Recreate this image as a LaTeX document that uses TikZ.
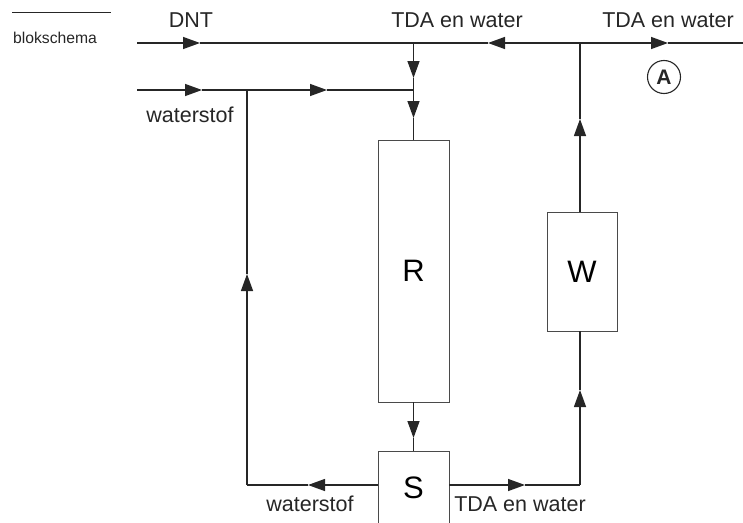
\documentclass[tikz,border=0pt]{standalone}
\usepackage{fontspec}
\setmainfont{Liberation Sans}
\usetikzlibrary{arrows.meta}
\definecolor{ink}{HTML}{262626}
\definecolor{boxline}{HTML}{4A4A4A}
\tikzset{
  flow/.style={draw=ink, line width=1.4pt},
  tip/.style={flow, -{Triangle[length=17pt,width=12pt]}},
  unitbox/.style={draw=boxline, line width=0.9pt, fill=white, inner sep=0pt,
    minimum width=71pt, font=\fontsize{31}{36}\selectfont},
  lbl/.style={anchor=base, inner sep=0pt, text=ink, font=\fontsize{21.5}{25}\selectfont},
}
\begin{document}
\begin{tikzpicture}[x=1pt,y=-1pt]
\clip (0,0) rectangle (743,522);
\useasboundingbox (0,0) rectangle (743,522);
% header
\coordinate (hl) at (12,12);
\coordinate (hr) at (111,12);
\draw[draw=ink, line width=1pt] (hl) -- (hr);
\node[anchor=base west, inner sep=0pt, text=ink, font=\fontsize{15.7}{18}\selectfont] (bs) at (13,43) {blokschema};
% units
\node[unitbox, minimum height=262pt] (R) at (413.5,271) {R};
\node[unitbox, minimum height=74pt] (S) at (413.5,488) {S};
\node[unitbox, minimum width=70pt, minimum height=119pt] (W) at (582,271.5) {W};
% coordinates
\coordinate (dntin) at (137,43);
\coordinate (dnttip) at (200,43);
\coordinate (jr) at (413.5,43);
\coordinate (jw) at (580,43);
\coordinate (ltip) at (488,43);
\coordinate (rtip) at (668,43);
\coordinate (out) at (743,43);
\coordinate (h2in) at (137,90);
\coordinate (h2tip1) at (202,90);
\coordinate (jh) at (247,90);
\coordinate (h2tip2) at (327,90);
\coordinate (jr2) at (413.5,90);
\coordinate (vtip1) at (413.5,78);
\coordinate (vtip2) at (413.5,118);
\coordinate (rstip) at (413.5,438);
\coordinate (bl) at (247,485);
\coordinate (bltip) at (308,485);
\coordinate (lvtip) at (247,274);
\coordinate (br) at (580,485);
\coordinate (brtip) at (525,485);
\coordinate (rvtip) at (580,390);
\coordinate (wtip) at (580,119);
% top line
\draw[tip] (dntin) -- (dnttip);
\draw[flow] (dnttip) -- (jr);
\draw[tip] (jw) -- (ltip);
\draw[flow] (ltip) -- (jr);
\draw[tip] (jw) -- (rtip);
\draw[flow] (rtip) -- (out);
% down into R
\draw[tip] (jr) -- (vtip1);
\draw[flow] (vtip1) -- (jr2);
\draw[tip] (jr2) -- (vtip2);
\draw[flow] (vtip2) -- (R.north);
% hydrogen feed
\draw[tip] (h2in) -- (h2tip1);
\draw[flow] (h2tip1) -- (jh);
\draw[tip] (jh) -- (h2tip2);
\draw[flow] (h2tip2) -- (jr2);
% R to S
\draw[tip] (R.south) -- (rstip);
\draw[flow] (rstip) -- (S.north);
% S hydrogen recycle
\draw[tip] (S.west |- bl) -- (bltip);
\draw[flow] (bltip) -- (bl);
\draw[tip] (bl) -- (lvtip);
\draw[flow] (lvtip) -- (jh);
% S to W
\draw[tip] (S.east |- br) -- (brtip);
\draw[flow] (brtip) -- (br);
\draw[tip] (br) -- (rvtip);
\draw[flow] (rvtip) -- (W.south -| br);
\draw[tip] (W.north -| br) -- (wtip);
\draw[flow] (wtip) -- (jw);
% labels
\node[lbl] (dnt) at (191,27) {DNT};
\node[lbl] (ws1) at (190,122) {waterstof};
\node[lbl] (tda1) at (457,27) {TDA en water};
\node[lbl] (tda2) at (668,27) {TDA en water};
\node[lbl] (ws2) at (310,511) {waterstof};
\node[lbl] (tda3) at (520,511) {TDA en water};
\node[draw=ink, line width=1.1pt, circle, minimum size=33pt, inner sep=0pt, text=ink, font=\fontsize{21}{24}\selectfont\bfseries] (A) at (664,77) {A};
\end{tikzpicture}
\end{document}
